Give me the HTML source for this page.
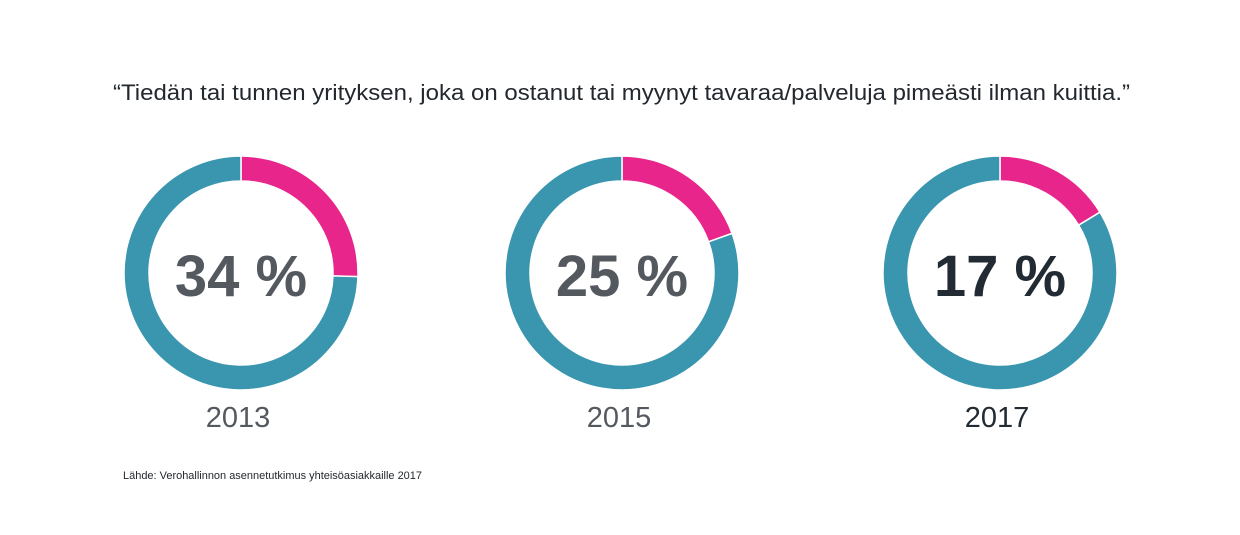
<!DOCTYPE html>
<html><head><meta charset="utf-8"><style>
body{margin:0;background:#fff;width:1240px;height:530px;overflow:hidden;font-family:"Liberation Sans",Arial,sans-serif}
</style></head><body>
<svg id="chart" width="1240" height="530" xmlns="http://www.w3.org/2000/svg">
<text x="113" y="100" textLength="1017" lengthAdjust="spacingAndGlyphs" font-size="22" fill="#23282e">“Tiedän tai tunnen yrityksen, joka on ostanut tai myynyt tavaraa/palveluja pimeästi ilman kuittia.”</text>
<text x="123" y="479" textLength="299" lengthAdjust="spacingAndGlyphs" font-size="11" fill="#23282e">Lähde: Verohallinnon asennetutkimus yhteisöasiakkaille 2017</text>
</svg>
<script>
const years = ["2013","2015","2017"];
const labels = ["34 %","25 %","17 %"];
const shares = [0.255, 0.195, 0.163];
const centersX = [241, 622, 1000];
const textColors = ["#545960","#545960","#222a33"];
const svg = document.getElementById('chart');
const NS = "http://www.w3.org/2000/svg";
const cy = 273, R = 117, r = 92;
function pt(rad, f, cx){const a = f*2*Math.PI; return [cx + rad*Math.sin(a), cy - rad*Math.cos(a)];}
function arc(cx, f0, f1){
  const large = (f1-f0) > 0.5 ? 1 : 0;
  const [x0,y0]=pt(R,f0,cx),[x1,y1]=pt(R,f1,cx),[x2,y2]=pt(r,f1,cx),[x3,y3]=pt(r,f0,cx);
  return `M${x0},${y0}A${R},${R} 0 ${large} 1 ${x1},${y1}L${x2},${y2}A${r},${r} 0 ${large} 0 ${x3},${y3}Z`;
}
years.forEach((y,i)=>{
  const cx = centersX[i];
  const p1 = document.createElementNS(NS,'path');
  p1.setAttribute('d', arc(cx, 0, shares[i]));
  p1.setAttribute('fill','#e8258a'); p1.setAttribute('stroke','#fff'); p1.setAttribute('stroke-width','1.5');
  
  
  svg.appendChild(p1);
  const p2 = document.createElementNS(NS,'path');
  p2.setAttribute('d', arc(cx, shares[i], 0.99999));
  p2.setAttribute('fill','#3a95ae'); p2.setAttribute('stroke','#fff'); p2.setAttribute('stroke-width','1.5');
  
  
  svg.appendChild(p2);
  const t = document.createElementNS(NS,'text');
  t.setAttribute('x', cx); t.setAttribute('y', cy+23); t.setAttribute('text-anchor','middle');
  t.setAttribute('font-size','58'); t.setAttribute('font-weight','bold'); t.setAttribute('fill', textColors[i]);
  t.textContent = labels[i];
  
  
  svg.appendChild(t);
  const yt = document.createElementNS(NS,'text');
  yt.setAttribute('x', cx-3); yt.setAttribute('y', 427); yt.setAttribute('text-anchor','middle');
  yt.setAttribute('font-size','29'); yt.setAttribute('fill', textColors[i]);
  yt.textContent = y;
  
  
  svg.appendChild(yt);
});
</script>
</body></html>
